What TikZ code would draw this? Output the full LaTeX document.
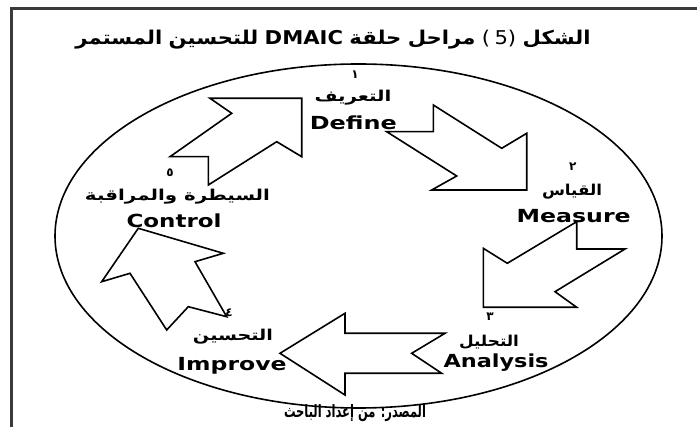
\documentclass[tikz,border=0pt]{standalone}
\usepackage{fontspec}
\usepackage{graphicx}
\TeXXeTstate=1
\newfontfamily\arfont[Script=Arabic]{DejaVu Sans}
\newfontfamily\lafont{DejaVu Sans}
\definecolor{framegray}{HTML}{3A3A3A}
\newcommand{\arlab}[3]{\resizebox{#1pt}{\height}{\arfont\bfseries\fontsize{#2}{#2}\selectfont\beginR #3\endR}}
\newcommand{\enlab}[2]{\resizebox{#1pt}{\height}{\lafont\bfseries\fontsize{18}{18}\selectfont #2}}
\newcommand{\ardig}[1]{{\arfont\bfseries\fontsize{12}{12}\selectfont #1}}
\tikzset{
  lbl/.style={inner sep=0pt, outer sep=0pt},
  blockarrow/.style={draw=black, line width=1.6pt, line join=miter, fill=none},
  frameline/.style={draw=framegray, line width=2.6pt},
}
\begin{document}
\begin{tikzpicture}[x=1pt,y=-1pt]
\useasboundingbox (0,0) rectangle (697,427);
\fill[white] (0,0) rectangle (697,427);
% frame (top and left)
\coordinate (fr1) at (697,8.7);
\coordinate (fr2) at (11.5,8.7);
\coordinate (fr3) at (11.5,427);
\draw[frameline] (fr1) -- (fr2) -- (fr3);
% title (words placed in visual left-to-right order; each Arabic word is shaped right to left)
\node[lbl] (title) at (333,40) {\resizebox{515pt}{\height}{\fontsize{19}{19}\selectfont{\arfont\bfseries المستمر} {\arfont\bfseries للتحسين} {\lafont\bfseries DMAIC} {\arfont\bfseries حلقة} {\arfont\bfseries مراحل} {\lafont\mdseries(\kern4pt5)} {\arfont\bfseries الشكل}}};
% ellipse
\draw[line width=1.6pt] (358.5,236) ellipse [x radius=303.5, y radius=172];
% block arrows
\draw[blockarrow] (210,98.3) -- (301.7,98.3) -- (301.7,156.7) -- (276.7,141.7) -- (208.3,185) -- (208.3,156.7) -- (170,156.7) -- (231.7,113.3) -- cycle;
\draw[blockarrow] (433.3,105) -- (501.7,148.3) -- (526.7,133.3) -- (526.7,190) -- (431.7,190) -- (456.7,176) -- (386.7,131.7) -- (433.3,131.7) -- cycle;
\draw[blockarrow] (576.7,221.7) -- (507.3,263.3) -- (483.3,248.3) -- (483.3,307.3) -- (576.7,307.3) -- (555,291.7) -- (625,249) -- (576.7,249) -- cycle;
\draw[blockarrow] (280,353.3) -- (345,313.3) -- (345,333.3) -- (445,333.3) -- (411.7,353.3) -- (441.7,373.3) -- (345,373.3) -- (345,395) -- cycle;
\draw[blockarrow] (138.3,228.3) -- (223.3,253.3) -- (195,261.7) -- (226.7,316.7) -- (188.3,306.7) -- (166.7,330) -- (130,273.3) -- (101.7,281.7) -- cycle;
% stage 1
\node[lbl] (n1) at (355,75) {\ardig{١}};
\node[lbl] (a1) at (353,98) {\arlab{77}{15}{التعريف}};
\node[lbl,anchor=base] (e1) at (353.3,130) {\enlab{87}{Define}};
% stage 2
\node[lbl] (n2) at (572.7,166.7) {\ardig{٢}};
\node[lbl] (a2) at (572,192) {\arlab{60}{15}{القياس}};
\node[lbl,anchor=base] (e2) at (573.7,223) {\enlab{114}{Measure}};
% stage 3
\node[lbl] (n3) at (490,316.7) {\ardig{٣}};
\node[lbl] (a3) at (489,342) {\arlab{60}{15}{التحليل}};
\node[lbl,anchor=base] (e3) at (496,367.5) {\enlab{105}{Analysis}};
% stage 4
\node[lbl] (n4) at (229,313) {\ardig{٤}};
\node[lbl] (a4) at (233,337) {\arlab{80}{15}{التحسين}};
\node[lbl,anchor=base] (e4) at (232,371) {\enlab{109}{Improve}};
% stage 5
\node[lbl] (n5) at (170,173) {\ardig{٥}};
\node[lbl] (a5) at (177.5,197) {\arlab{185}{15}{السيطرة والمراقبة}};
\node[lbl,anchor=base] (e5) at (174,228) {\enlab{95}{Control}};
% source
\node[lbl] (src) at (355,413) {\arlab{142}{17}{المصدر: من إعداد الباحث}};
\end{tikzpicture}
\end{document}
